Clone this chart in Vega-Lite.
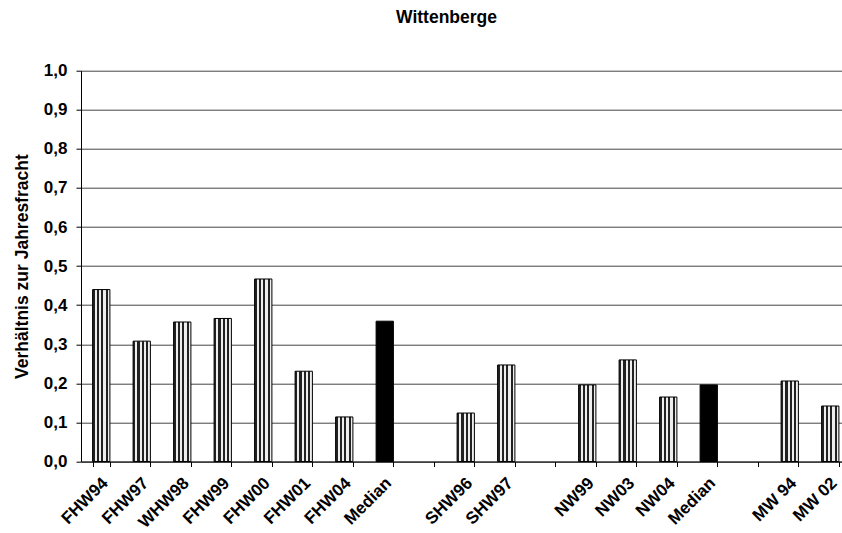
{
  "$schema": "https://vega.github.io/schema/vega-lite/v6.json",
  "autosize": "none",
  "width": 761,
  "height": 390.8,
  "padding": {"left": 81, "top": 70.7, "right": 0, "bottom": 71.5},
  "background": "white",
  "config": {
    "font": "Liberation Sans",
    "view": {"stroke": null},
    "axis": {"labelFont": "Liberation Sans", "titleFont": "Liberation Sans", "labelFontWeight": "bold", "titleFontWeight": "bold", "labelFontSize": 17, "titleFontSize": 17.5, "labelColor": "black", "titleColor": "black", "domainColor": "black", "tickColor": "black"}
  },
  "title": {"text": "Wittenberge", "fontSize": 17.5, "fontWeight": "bold", "font": "Liberation Sans", "color": "black", "anchor": "middle", "frame": "group", "dx": -15, "offset": 35},
  "data": {"values": [
    {"id": "FHW94", "v": 0.440, "k": "h"},
    {"id": "FHW97", "v": 0.308, "k": "h"},
    {"id": "WHW98", "v": 0.357, "k": "h"},
    {"id": "FHW99", "v": 0.366, "k": "h"},
    {"id": "FHW00", "v": 0.467, "k": "h"},
    {"id": "FHW01", "v": 0.231, "k": "h"},
    {"id": "FHW04", "v": 0.114, "k": "h"},
    {"id": "Median A", "v": 0.359, "k": "m"},
    {"id": "SHW96", "v": 0.124, "k": "h"},
    {"id": "SHW97", "v": 0.247, "k": "h"},
    {"id": "NW99", "v": 0.196, "k": "h"},
    {"id": "NW03", "v": 0.260, "k": "h"},
    {"id": "NW04", "v": 0.165, "k": "h"},
    {"id": "Median B", "v": 0.196, "k": "m"},
    {"id": "MW 94", "v": 0.206, "k": "h"},
    {"id": "MW 02", "v": 0.142, "k": "h"}
  ]},
  "encoding": {
    "x": {
      "field": "id", "type": "nominal", "sort": null,
      "scale": {
        "domain": ["FHW94","FHW97","WHW98","FHW99","FHW00","FHW01","FHW04","Median A","gap1","SHW96","SHW97","gap2","NW99","NW03","NW04","Median B","gap3","MW 94","MW 02"],
        "range": [0, 769.5],
        "paddingInner": 0.573, "paddingOuter": 0.2865
      },
      "axis": {
        "title": null, "labelAngle": -45, "tickBand": "extent", "tickSize": 5, "labelPadding": 8, "labelFontSize": 17, "labelOffset": -2,
        "labelExpr": "substring(datum.value,0,3) == 'gap' ? '' : (substring(datum.value,0,6) == 'Median' ? 'Median' : datum.value)"
      }
    },
    "y": {
      "field": "v", "type": "quantitative",
      "scale": {"domain": [0, 1], "nice": false},
      "axis": {
        "title": "Verhältnis zur Jahresfracht", "values": [0,0.1,0.2,0.3,0.4,0.5,0.6,0.7,0.8,0.9,1.0],
        "labelExpr": "replace(format(datum.value, '.1f'), '.', ',')",
        "grid": true, "gridColor": "#444", "gridWidth": 1, "tickSize": 5, "labelPadding": 9, "titlePadding": 12
      }
    }
  },
  "layer": [
    {
      "transform": [{"filter": "datum.k == 'h'"}],
      "mark": {"type": "bar", "stroke": "black", "strokeWidth": 1,
        "fill": {"gradient": "linear", "x1": 0, "y1": 0, "x2": 1, "y2": 0, "stops": [
          {"offset": 0, "color": "#222"}, {"offset": 0.125, "color": "#222"},
          {"offset": 0.125, "color": "#eee"}, {"offset": 0.25, "color": "#eee"},
          {"offset": 0.25, "color": "#222"}, {"offset": 0.375, "color": "#222"},
          {"offset": 0.375, "color": "#eee"}, {"offset": 0.5, "color": "#eee"},
          {"offset": 0.5, "color": "#222"}, {"offset": 0.625, "color": "#222"},
          {"offset": 0.625, "color": "#eee"}, {"offset": 0.75, "color": "#eee"},
          {"offset": 0.75, "color": "#222"}, {"offset": 0.875, "color": "#222"},
          {"offset": 0.875, "color": "#eee"}, {"offset": 1, "color": "#eee"}
        ]}}
    },
    {
      "transform": [{"filter": "datum.k == 'm'"}],
      "mark": {"type": "bar", "fill": "black", "stroke": "black", "strokeWidth": 1}
    }
  ]
}
